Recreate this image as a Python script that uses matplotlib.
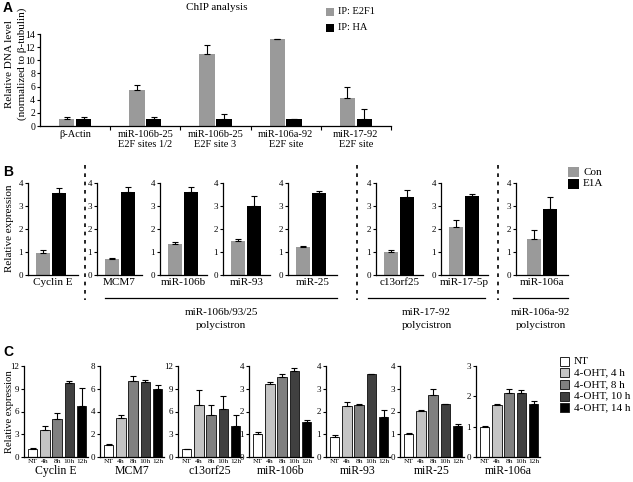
import matplotlib
matplotlib.use("Agg")
import matplotlib.pyplot as plt
import numpy as np
from matplotlib.lines import Line2D
from matplotlib.patches import Rectangle

plt.rcParams['font.family'] = ['Liberation Serif', 'DejaVu Serif']

W, H = 633, 482

# ---------------- Data ----------------
# Panel A
a_categories = ["\u03b2-Actin", "miR-106b-25\nE2F sites 1/2", "miR-106b-25\nE2F site 3",
                "miR-106a-92\nE2F site", "miR-17-92\nE2F site"]
a_e2f1 = [1.1, 5.5, 10.9, 13.2, 4.25]
a_e2f1_err = [0.3, 0.8, 1.5, 0.1, 1.75]
a_ha = [1.0, 1.0, 1.0, 1.0, 1.0]
a_ha_err = [0.4, 0.4, 0.9, 0.1, 1.6]

# Panel B
b_genes = ["Cyclin E", "MCM7", "miR-106b", "miR-93", "miR-25", "c13orf25", "miR-17-5p", "miR-106a"]
b_con = [0.95, 0.70, 1.35, 1.47, 1.20, 1.00, 2.08, 1.55]
b_con_err = [0.12, 0.04, 0.08, 0.08, 0.06, 0.10, 0.33, 0.40]
b_e1a = [3.58, 3.62, 3.62, 3.02, 3.55, 3.40, 3.42, 2.88]
b_e1a_err = [0.20, 0.20, 0.20, 0.40, 0.12, 0.28, 0.10, 0.50]
b_groups = ["miR-106b/93/25\npolycistron", "miR-17-92\npolycistron", "miR-106a-92\npolycistron"]

# Panel C
c_genes = ["Cyclin E", "MCM7", "c13orf25", "miR-106b", "miR-93", "miR-25", "miR-106a"]
c_timepoints = ["NT", "4h", "8h", "10h", "12h"]
c_legend = ["NT", "4-OHT, 4 h", "4-OHT, 8 h", "4-OHT, 10 h", "4-OHT, 14 h"]
c_values = [
    [1.0, 3.6, 5.0, 9.8, 6.7],
    [1.05, 3.45, 6.7, 6.6, 6.0],
    [1.0, 6.9, 5.6, 6.3, 4.1],
    [1.0, 3.2, 3.5, 3.78, 1.52],
    [0.88, 2.22, 2.28, 3.63, 1.78],
    [1.02, 2.03, 2.72, 2.32, 1.37],
    [1.0, 1.70, 2.10, 2.10, 1.76],
]
c_errors = [
    [0.2, 0.45, 0.8, 0.25, 2.4],
    [0.05, 0.25, 0.45, 0.15, 0.3],
    [0.1, 1.9, 1.2, 1.7, 1.5],
    [0.1, 0.1, 0.15, 0.15, 0.12],
    [0.08, 0.2, 0.06, 0.02, 0.28],
    [0.03, 0.05, 0.26, 0.03, 0.06],
    [0.03, 0.06, 0.13, 0.1, 0.08],
]
c_ylims = [12, 8, 12, 4, 4, 4, 3]
c_yticks = [[0, 3, 6, 9, 12], [0, 2, 4, 6, 8], [0, 3, 6, 9, 12], [0, 1, 2, 3, 4],
            [0, 1, 2, 3, 4], [0, 1, 2, 3, 4], [0, 1, 2, 3]]

# ---------------- Styles ----------------
GRAY = "#9a9a9a"
C_COLORS = ["#ffffff", "#c4c4c4", "#808080", "#404040", "#000000"]

fig = plt.figure(figsize=(W / 100, H / 100), dpi=100)


def fx(x):
    return x / W


def fy(y):
    return 1 - y / H


def ax_at(left, right, bottom, top):
    return fig.add_axes([fx(left), fy(bottom), (right - left) / W, (bottom - top) / H])


def style_ax(ax, lw=0.9):
    for s in ["top", "right"]:
        ax.spines[s].set_visible(False)
    for s in ["left", "bottom"]:
        ax.spines[s].set_linewidth(lw)
    ax.tick_params(axis='y', direction='out', length=2.5, width=0.8, pad=1, labelsize=6.5)


def ftext(x, y, s, **kw):
    fig.text(fx(x), fy(y), s, **kw)


# ---------------- Panel A ----------------
axA = ax_at(40, 391, 126, 34)
style_ax(axA)
axA.tick_params(axis='y', labelsize=7)
xa = np.arange(len(a_categories))
bw = 0.22
axA.bar(xa - 0.12, a_e2f1, bw, color=GRAY, yerr=[np.zeros(5), a_e2f1_err],
        error_kw=dict(ecolor='black', elinewidth=0.8, capsize=2.2, capthick=0.8))
axA.bar(xa + 0.12, a_ha, bw, color='black', yerr=[np.zeros(5), a_ha_err],
        error_kw=dict(ecolor='black', elinewidth=0.8, capsize=2.2, capthick=0.8))
axA.set_xlim(-0.5, 4.5)
axA.set_ylim(0, 14)
axA.set_yticks(range(0, 15, 2))
axA.set_xticks(xa)
axA.set_xticklabels(a_categories, fontsize=7.5, linespacing=1.1)
axA.tick_params(axis='x', length=0, pad=3)
axA.set_xticks(np.arange(0.5, 4.6, 1), minor=True)
axA.tick_params(axis='x', which='minor', length=3, width=0.8, direction='out')
ftext(217, 8, "ChIP analysis", fontsize=8, ha='center', va='center')
ftext(10, 64, "Relative DNA level", fontsize=8, rotation=90, ha='center', va='center')
ftext(22, 64, "(normalized to \u03b2-tubulin)", fontsize=8, rotation=90, ha='center', va='center')
# legend A
for i, (lab, col) in enumerate([("IP: E2F1", GRAY), ("IP: HA", 'black')]):
    yc = 12 + i * 16
    fig.patches.append(Rectangle((fx(326), fy(yc + 4)), 8 / W, 8 / H, transform=fig.transFigure,
                                 facecolor=col, edgecolor='none'))
    ftext(338, yc, lab, fontsize=7.5, ha='left', va='center')

# ---------------- Panel B ----------------
b_axes = [(28, 78), (97, 142), (160, 207), (223, 270), (288, 337), (376, 423), (441, 488), (516, 568)]
unit = 16.0
for i, (l, r) in enumerate(b_axes):
    ax = ax_at(l, r, 275, 183)
    style_ax(ax)
    off = 18.0 if i == 7 else 15.0
    left_lim = -off / unit
    ax.set_xlim(left_lim, left_lim + (r - l) / unit)
    ax.bar([0], [b_con[i]], 0.88, color=GRAY, yerr=[[0], [b_con_err[i]]],
           error_kw=dict(ecolor='black', elinewidth=0.8, capsize=2.2, capthick=0.8))
    ax.bar([1], [b_e1a[i]], 0.88, color='black', yerr=[[0], [b_e1a_err[i]]],
           error_kw=dict(ecolor='black', elinewidth=0.8, capsize=2.2, capthick=0.8))
    ax.set_ylim(0, 4)
    ax.set_yticks([0, 1, 2, 3, 4])
    ax.set_xticks([])
    ax.set_xlabel(b_genes[i], fontsize=8, labelpad=2)

ftext(10, 228, "Relative expression", fontsize=8, rotation=90, ha='center', va='center')
# dashed separators
for xd in [85, 357, 498]:
    fig.add_artist(Line2D([fx(xd), fx(xd)], [fy(165), fy(300)], transform=fig.transFigure,
                          color='black', lw=1.2, linestyle=(0, (2.2, 2.8))))
# group lines
for (x0, x1), lab in zip([(105, 337), (368, 485), (513, 568)], b_groups):
    fig.add_artist(Line2D([fx(x0), fx(x1)], [fy(298), fy(298)], transform=fig.transFigure,
                          color='black', lw=0.9))
    ftext((x0 + x1) / 2, 319, lab, fontsize=8, ha='center', va='center', linespacing=1.5)
# legend B
for i, (lab, col) in enumerate([("Con", GRAY), ("E1A", 'black')]):
    yc = 172 + i * 12
    fig.patches.append(Rectangle((fx(568), fy(yc + 5)), 11 / W, 10 / H, transform=fig.transFigure,
                                 facecolor=col, edgecolor='none'))
    ftext(583, yc, lab, fontsize=8, ha='left', va='center')

# ---------------- Panel C ----------------
c_lefts = [24, 100, 178, 249, 326, 400, 476]
cunit = 12.25
for i, l in enumerate(c_lefts):
    r = l + 5.2 * cunit
    ax = ax_at(l, r, 457, 366)
    style_ax(ax)
    xs = np.arange(5)
    ax.bar(xs, c_values[i], 0.78, color=C_COLORS, edgecolor='#222222', linewidth=0.7,
           yerr=[np.zeros(5), c_errors[i]],
           error_kw=dict(ecolor='black', elinewidth=0.8, capsize=2.0, capthick=0.8))
    ax.set_xlim(-0.7, 4.5)
    ax.set_ylim(0, c_ylims[i])
    ax.set_yticks(c_yticks[i])
    ax.set_xticks(xs)
    ax.set_xticklabels(c_timepoints, fontsize=5.4)
    ax.tick_params(axis='x', length=0, pad=1.5)
    ax.set_xlabel(c_genes[i], fontsize=8.5, labelpad=1)

ftext(10, 412, "Relative expression", fontsize=7.6, rotation=90, ha='center', va='center')
for i, (lab, col) in enumerate(zip(c_legend, C_COLORS)):
    yc = 361 + i * 11.7
    fig.patches.append(Rectangle((fx(560), fy(yc + 4.5)), 9 / W, 9 / H, transform=fig.transFigure,
                                 facecolor=col, edgecolor='#222222', linewidth=0.7))
    ftext(574, yc, lab, fontsize=8, ha='left', va='center')

# panel letters
for lab, (x, y) in zip(["A", "B", "C"], [(3, 8), (3, 172), (3, 352)]):
    ftext(x, y, lab, fontsize=10, fontweight='bold', family='Liberation Sans', ha='left', va='center')

fig.savefig("out.png", dpi=100)
